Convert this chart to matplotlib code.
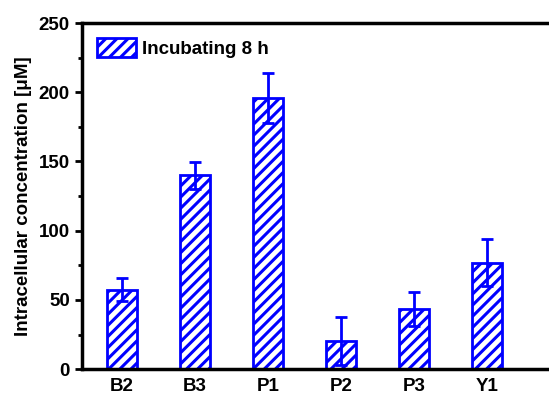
import matplotlib.pyplot as plt
import numpy as np

plt.rcParams['font.family'] = ['Liberation Sans', 'DejaVu Sans']
plt.rcParams['font.weight'] = 'bold'
plt.rcParams['hatch.linewidth'] = 2.2
plt.rcParams['hatch.color'] = '#0000ff'

samples = ['B2', 'B3', 'P1', 'P2', 'P3', 'Y1']
conc = [57.5, 140, 196, 20.5, 43.5, 77]
err = [8.5, 9.5, 18, 17.5, 12.5, 17]

blue = '#0000ff'

fig = plt.figure(figsize=(5.49, 3.97), dpi=100)
ax = fig.add_axes([0.149, 0.07, 0.9, 0.872])

x = np.arange(len(samples))
ax.bar(x, conc, width=0.42, color='white', edgecolor=blue, linewidth=2,
       hatch='///', label='Incubating 8 h', zorder=2)
ax.errorbar(x, conc, yerr=err, fmt='none', ecolor=blue, elinewidth=2,
            capsize=4, capthick=2, zorder=3)

ax.set_xlim(-0.55, 5.85 + (0.9 - 0.851) * 6.4 / 0.851)
ax.set_ylim(0, 250)
ax.set_yticks([0, 50, 100, 150, 200, 250])
ax.set_yticks(np.arange(25, 250, 50), minor=True)
ax.set_xticks(x)
ax.set_xticklabels(samples)
ax.tick_params(axis='both', labelsize=13.5, width=2, length=5, direction='out')
ax.tick_params(axis='y', which='minor', width=2, length=3)
ax.tick_params(axis='x', length=0, pad=6)
for s in ax.spines.values():
    s.set_linewidth(2.5)
ax.spines['right'].set_visible(False)
ax.set_ylabel('Intracellular concentration [μM]', fontsize=13.5, fontweight='bold',
              labelpad=5)

ax.legend(loc='upper left', frameon=False, fontsize=13.5, handlelength=2.1,
          handleheight=1.2, borderaxespad=0.4, handletextpad=0.3)

fig.savefig('out.png', dpi=100)
